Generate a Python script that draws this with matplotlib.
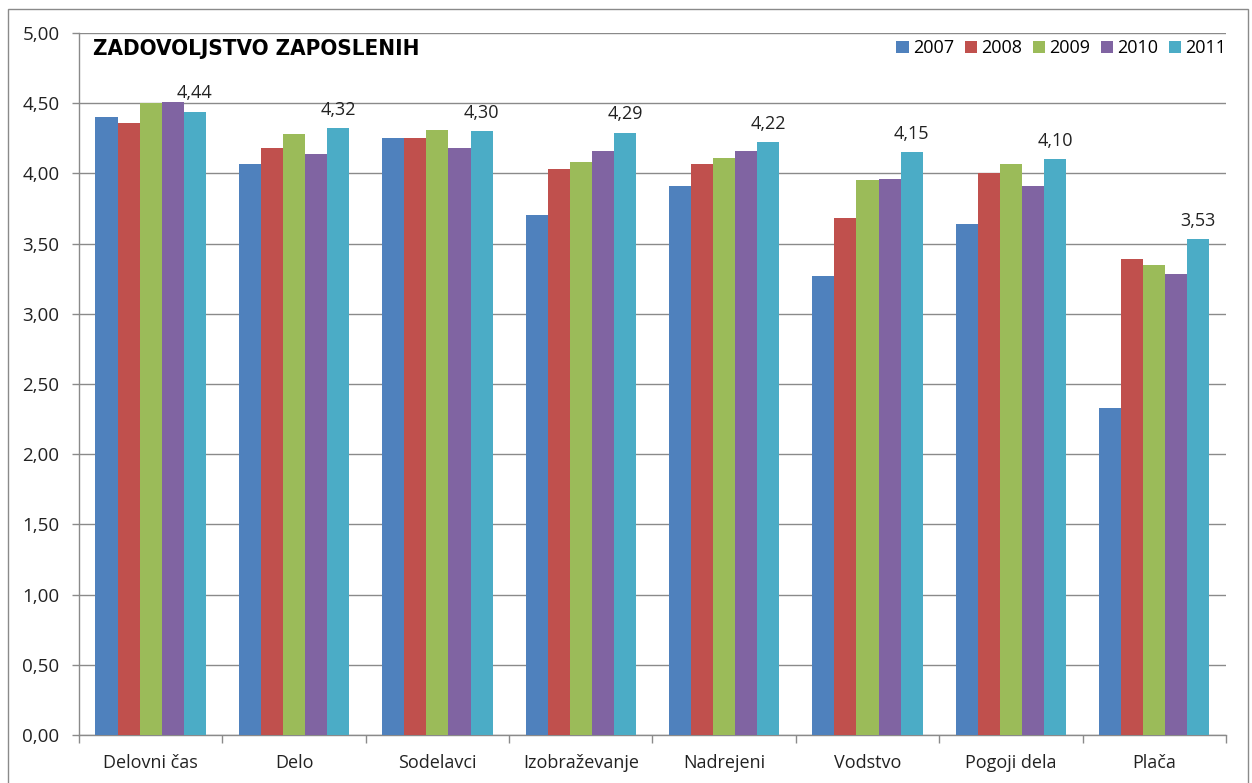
import numpy as np
import matplotlib
matplotlib.use("Agg")
import matplotlib.pyplot as plt
from matplotlib import font_manager as fm
from matplotlib.patches import Rectangle
from matplotlib.ticker import FuncFormatter

# ── Data ──────────────────────────────────────────────────────────────────────
categories = ["Delovni čas", "Delo", "Sodelavci", "Izobraževanje",
              "Nadrejeni", "Vodstvo", "Pogoji dela", "Plača"]
years = ["2007", "2008", "2009", "2010", "2011"]

v2007 = [4.40, 4.07, 4.25, 3.70, 3.91, 3.27, 3.64, 2.33]
v2008 = [4.36, 4.18, 4.25, 4.03, 4.07, 3.68, 4.00, 3.39]
v2009 = [4.50, 4.28, 4.31, 4.08, 4.11, 3.95, 4.07, 3.35]
v2010 = [4.51, 4.14, 4.18, 4.16, 4.16, 3.96, 3.91, 3.28]
v2011 = [4.44, 4.32, 4.30, 4.29, 4.22, 4.15, 4.10, 3.53]

series = [v2007, v2008, v2009, v2010, v2011]
colors = ["#4F81BD", "#C0504D", "#9BBB59", "#8064A2", "#4BACC6"]

yticks = np.arange(0, 5.01, 0.5)

# narrow bold face for the title, if one is around
fonts = fm.fontManager.ttflist
names = {f.name for f in fonts}
title_kw = dict(family=["DejaVu Sans"], fontsize=16)
if "Liberation Sans Narrow" in names:
    title_kw = dict(family=["Liberation Sans Narrow"], fontsize=17)
elif any(f.name == "DejaVu Sans" and f.stretch == "condensed" and f.weight == 700 for f in fonts):
    title_kw = dict(family=["DejaVu Sans"], fontstretch="condensed", fontsize=16)
elif "Roboto" in names:
    title_kw = dict(family=["Roboto"], fontsize=16)

# ── Figure ────────────────────────────────────────────────────────────────────
plt.rcParams["font.family"] = ["Open Sans", "DejaVu Sans"]
fig = plt.figure(figsize=(12.52, 7.83), dpi=100)
ax = fig.add_axes([0.0631, 0.0613, 0.9161, 0.8966])

x = np.arange(len(categories))
bw = 0.154
for i, (vals, col, yr) in enumerate(zip(series, colors, years)):
    ax.bar(x + (i - 2) * bw, vals, width=bw, color=col, label=yr, zorder=3)

# value labels on last series
for xi, v in zip(x, v2011):
    ax.annotate(f"{v:.2f}".replace(".", ","), (xi + 2 * bw, v),
                xytext=(0, 7), textcoords="offset points",
                ha="center", va="bottom", fontsize=13, color="#222222")

ax.set_xlim(-0.5, len(categories) - 0.5)
ax.set_ylim(0, 5)
ax.set_yticks(yticks)
ax.yaxis.set_major_formatter(FuncFormatter(lambda v, p: f"{v:.2f}".replace(".", ",")))
ax.yaxis.grid(True, color="#8a8a8a", linewidth=1.0, zorder=0)
ax.set_axisbelow(True)

ax.set_xticks(x)
ax.set_xticklabels(categories)
ax.set_xticks(np.arange(-0.5, len(categories), 1.0), minor=True)
ax.tick_params(axis="x", which="major", length=0, pad=14, labelsize=13, colors="#222222")
ax.tick_params(axis="x", which="minor", length=6, width=1, color="#8a8a8a")
ax.tick_params(axis="y", length=5, width=1, color="#8a8a8a", pad=9,
               labelsize=13.5, labelcolor="#222222")

for s in ["top", "right"]:
    ax.spines[s].set_visible(False)
for s in ["left", "bottom"]:
    ax.spines[s].set_color("#8a8a8a")
    ax.spines[s].set_linewidth(1)

ax.text(0.012, 0.977, "ZADOVOLJSTVO ZAPOSLENIH", transform=ax.transAxes,
        ha="left", va="center", fontweight="bold", color="black", **title_kw)

ax.legend(loc="center right", bbox_to_anchor=(1.0, 0.978), ncol=5, frameon=False,
          fontsize=13, handlelength=0.7, handleheight=0.7, handletextpad=0.2,
          columnspacing=0.6, borderaxespad=0, borderpad=0)

# outer chart frame
fig.patches.append(Rectangle((8 / 1252, -0.02), 1240 / 1252, 1 - 9 / 783 + 0.02,
                             transform=fig.transFigure, fill=False,
                             edgecolor="#8a8a8a", linewidth=1))

fig.savefig("out.png", dpi=100)
